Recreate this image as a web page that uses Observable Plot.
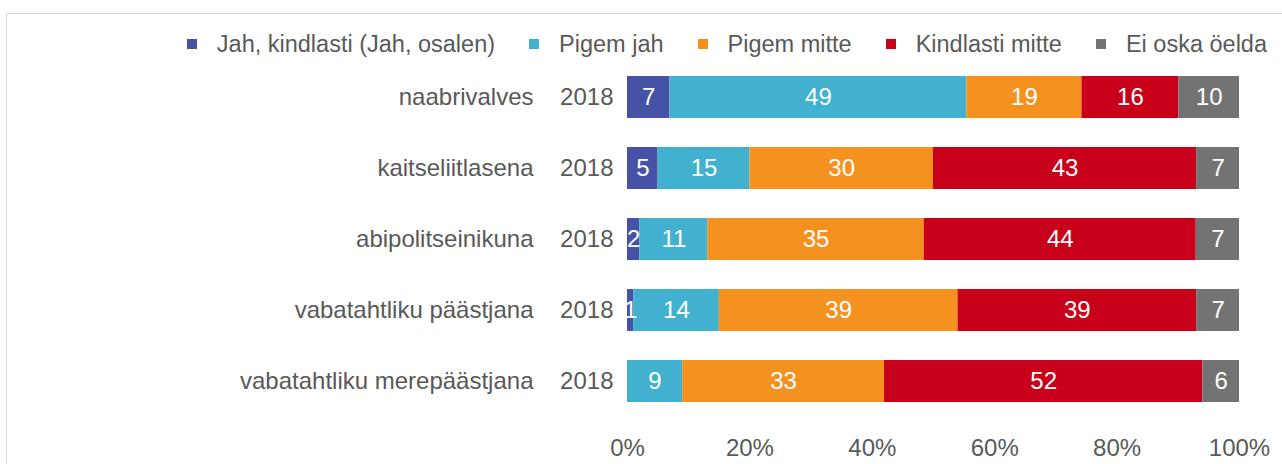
<!DOCTYPE html>
<html>
<head>
<meta charset="utf-8">
<script src="https://cdn.jsdelivr.net/npm/d3@7"></script>
<script src="https://cdn.jsdelivr.net/npm/@observablehq/plot@0.6"></script>
<style>
  html, body { margin: 0; padding: 0; background: #fff; overflow: hidden; }
  body { width: 1282px; height: 464px; position: relative; font-family: "Liberation Sans", Arial, sans-serif; }
  #frame { position: absolute; left: 6px; top: 13px; width: 1400px; height: 600px; border: 1px solid #d9d9d9; box-sizing: border-box; }
  #legend { position: relative; height: 60px; display: flex; justify-content: flex-end; align-items: center; padding-top: 28px; box-sizing: border-box; padding-right: 15px; font-size: 23.5px; color: #595959; }
  .item { display: flex; align-items: center; margin-left: 34px; white-space: nowrap; }
  .sw { width: 10px; height: 10px; margin-right: 20px; }
  #chart { position: relative; }
</style>
</head>
<body>
<div id="frame"></div>
<div id="legend"></div>
<div id="chart"></div>
<script>
const categories = ["naabrivalves", "kaitseliitlasena", "abipolitseinikuna", "vabatahtliku päästjana", "vabatahtliku merepäästjana"];
const years = ["2018", "2018", "2018", "2018", "2018"];
const seriesNames = ["Jah, kindlasti (Jah, osalen)", "Pigem jah", "Pigem mitte", "Kindlasti mitte", "Ei oska öelda"];
const seriesColors = ["#4652a6", "#41b1cf", "#f5921f", "#c8001a", "#737373"];
const jahKindlasti = [7, 5, 2, 1, 0];
const pigemJah = [49, 15, 11, 14, 9];
const pigemMitte = [19, 30, 35, 39, 33];
const kindlastiMitte = [16, 43, 44, 39, 52];
const eiOska = [10, 7, 7, 7, 6];
const xTicks = [0, 0.2, 0.4, 0.6, 0.8, 1];

const seriesValues = [jahKindlasti, pigemJah, pigemMitte, kindlastiMitte, eiOska];
const rows = [];
categories.forEach((c, i) => {
  seriesNames.forEach((s, j) => {
    rows.push({category: c, year: years[i], series: s, value: seriesValues[j][i]});
  });
});
const nonZero = rows.filter(d => d.value > 0);

// legend
const legend = document.getElementById("legend");
seriesNames.forEach((s, j) => {
  const it = document.createElement("div");
  it.className = "item";
  if (j === 0) it.style.marginLeft = "0";
  const sw = document.createElement("span");
  sw.className = "sw";
  sw.style.background = seriesColors[j];
  const tx = document.createElement("span");
  tx.textContent = s;
  it.appendChild(sw);
  it.appendChild(tx);
  legend.appendChild(it);
});

const yearOf = new Map(categories.map((c, i) => [c, years[i]]));

const chart = Plot.plot({
  width: 1282,
  height: 404,
  marginLeft: 627,
  marginRight: 43,
  marginTop: 7,
  marginBottom: 54,
  style: {fontFamily: "'Liberation Sans', Arial, sans-serif", fontSize: "24px", color: "#595959", background: "transparent"},
  x: {domain: [0, 1], ticks: xTicks},
  y: {domain: categories, paddingInner: 0.415, paddingOuter: 0.1},
  color: {domain: seriesNames, range: seriesColors},
  marks: [
    Plot.barX(nonZero, Plot.stackX({x: "value", y: "category", z: "series", fill: "series", offset: "normalize", order: seriesNames})),
    Plot.text(nonZero, Plot.stackX({x: "value", y: "category", z: "series", text: d => String(d.value), offset: "normalize", order: seriesNames, fill: "white", fontSize: 24})),
    Plot.axisY({tickSize: 0, tickPadding: 14, tickFormat: d => yearOf.get(d), label: null}),
    Plot.axisY({tickSize: 0, tickPadding: 94, tickFormat: d => d, label: null}),
    Plot.axisX({ticks: xTicks, tickSize: 0, tickPadding: 28, tickFormat: d3.format(".0%"), label: null})
  ]
});
document.getElementById("chart").appendChild(chart);
</script>
</body>
</html>
